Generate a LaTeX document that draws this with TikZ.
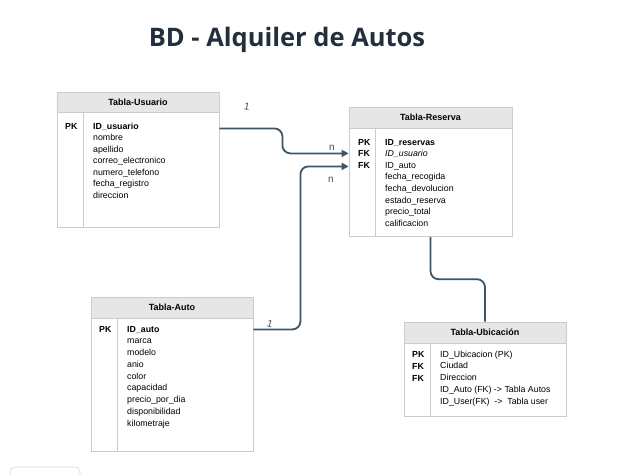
\documentclass[tikz,border=0pt]{standalone}
\usepackage{fontspec}
\setmainfont{Liberation Sans}
\newfontfamily\titlefont{Open Sans}
\usetikzlibrary{arrows.meta,calc}
\definecolor{hdr}{HTML}{E6E6E6}
\definecolor{brd}{HTML}{CCCCCC}
\definecolor{lnk}{HTML}{3D5566}
\definecolor{ttl}{HTML}{232F3E}
\begin{document}
\begin{tikzpicture}[x=1pt,y=-1pt,
 hdrbox/.style={draw=brd,fill=hdr,line width=0.8pt,inner sep=0,font=\fontsize{9}{10}\selectfont\bfseries},
 bodybox/.style={draw=brd,fill=white,line width=0.8pt,inner sep=0,anchor=north},
 divider/.style={draw=brd,line width=0.8pt},
 fld/.style={anchor=base west,inner sep=0,font=\fontsize{8.8}{10}\selectfont},
 key/.style={anchor=base west,inner sep=0,font=\fontsize{8.8}{10}\selectfont\bfseries},
 link/.style={draw=lnk,line width=1.8pt,rounded corners=8pt},
 tip/.style={-{Triangle[length=7pt,width=7pt]}},
 card/.style={inner sep=0,font=\fontsize{10}{11}\selectfont, text=black!70}]
\useasboundingbox[fill=white] (0,0) rectangle (628,474);

% title
\node[font=\titlefont\fontsize{25.5}{30}\selectfont\bfseries, text=ttl] (title) at (287,40) {BD - Alquiler de Autos};

% Tabla-Usuario
\node[hdrbox,minimum width=162,minimum height=20] (usuH) at (138,102) {Tabla-Usuario};
\node[bodybox,minimum width=162,minimum height=115] (usuB) at (usuH.south) {};
\draw[divider] ($(usuB.north west)+(27,0)$) -- ($(usuB.south west)+(27,0)$);
\node[key] (usuK1) at (65,129) {PK};
\node[key] (usuF1) at (93,129) {ID\_usuario};
\foreach [count=\i from 2] \t in {nombre,apellido,correo\_electronico,numero\_telefono,fecha\_registro,direccion}
  \node[fld] (usuF\i) at (93,{129+(\i-1)*11.5}) {\t};

% Tabla-Reserva
\node[hdrbox,minimum width=163,minimum height=21] (resH) at (430.5,117.5) {Tabla-Reserva};
\node[bodybox,minimum width=163,minimum height=108] (resB) at (resH.south) {};
\draw[divider] ($(resB.north west)+(27,0)$) -- ($(resB.south west)+(27,0)$);
\node[key] (resK1) at (358,145) {PK};
\node[key] (resK2) at (358,156.6) {FK};
\node[key] (resK3) at (358,168.2) {FK};
\node[key] (resF1) at (385,145) {ID\_reservas};
\node[fld,font=\fontsize{8.8}{10}\selectfont\itshape] (resF2) at (385,156.6) {ID\_usuario};
\foreach [count=\i from 3] \t in {ID\_auto,fecha\_recogida,fecha\_devolucion,estado\_reserva,precio\_total,calificacion}
  \node[fld] (resF\i) at (385,{145+(\i-1)*11.64}) {\t};

% Tabla-Auto
\node[hdrbox,minimum width=162,minimum height=21] (autH) at (172,307.5) {Tabla-Auto};
\node[bodybox,minimum width=162,minimum height=133] (autB) at (autH.south) {};
\draw[divider] ($(autB.north west)+(27,0)$) -- ($(autB.south west)+(27,0)$);
\node[key] (autK1) at (99,332) {PK};
\node[key] (autF1) at (127,332) {ID\_auto};
\foreach [count=\i from 2] \t in {marca,modelo,anio,color,capacidad,precio\_por\_dia,disponibilidad,kilometraje}
  \node[fld] (autF\i) at (127,{332+(\i-1)*11.75}) {\t};

% Tabla-Ubicacion
\node[hdrbox,minimum width=162,minimum height=21] (ubiH) at (485,332.5) {Tabla-Ubicación};
\node[bodybox,minimum width=162,minimum height=73] (ubiB) at (ubiH.south) {};
\draw[divider] ($(ubiB.north west)+(27,0)$) -- ($(ubiB.south west)+(27,0)$);
\node[key] (ubiK1) at (412,357) {PK};
\node[key] (ubiK2) at (412,369) {FK};
\node[key] (ubiK3) at (412,381) {FK};
\foreach [count=\i] \t in {ID\_Ubicacion (PK),Ciudad,Direccion,{ID\_Auto (FK) -> Tabla Autos},{ID\_User(FK) \ -> \ Tabla user}}
  \node[fld] (ubiF\i) at (440,{357+(\i-1)*11.8}) {\t};

% connectors
\draw[link,tip] ($(usuB.north east)+(0,16)$) -- ++(63,0) |- ($(resB.north west)+(0,25)$);
\draw[link,tip] ($(autB.north east)+(0,11)$) -- ++(47,0) |- ($(resB.north west)+(0,38)$);
\draw[link] (resB.south) -- ++(0,42) -| (ubiH.north);

% cardinalities
\node[card,rotate=-10] (c1) at (247,107) {1};
\node[card] (c2) at (332,148) {n};
\node[card] (c3) at (331,180) {n};
\node[card,rotate=-15] (c4) at (270,324) {1};

% partial UI element at the bottom
\draw[brd!80,line width=0.6pt,rounded corners=5pt] (10,482) rectangle (80,467);
\end{tikzpicture}
\end{document}
